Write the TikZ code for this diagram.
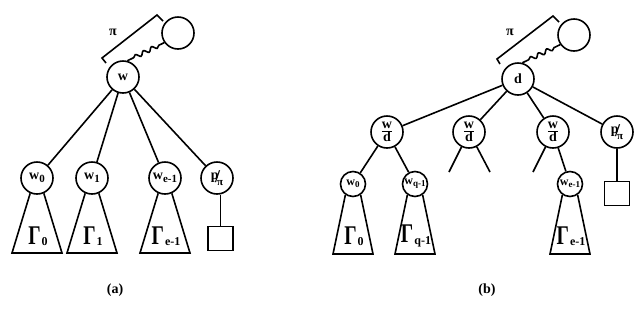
\documentclass[tikz,border=0pt]{standalone}
\usepackage{fontspec}
\usepackage{graphicx}
\setmainfont{Liberation Serif}
\usetikzlibrary{calc,decorations.pathmorphing}

% subscripts inside the tree nodes
\newcommand\nsub[1]{\raisebox{-2.5pt}{\fontsize{11}{11}\selectfont #1}}
\newcommand\ssub[1]{\raisebox{-2pt}{\fontsize{9}{9}\selectfont #1}}
% subtree label: big Gamma with an index
\newcommand\gam[1]{\scalebox{0.72}[1]{\fontsize{27}{27}\selectfont\bfseries Γ}\kern1pt\raisebox{-1.5pt}{\fontsize{12}{12}\selectfont\bfseries #1}}
% p over pi
\newcommand\poverpi{\raisebox{2.5pt}{p}\kern-3.5pt{\fontsize{18}{18}\selectfont/}\kern-3pt\raisebox{-3.5pt}{\fontsize{11}{11}\selectfont π}}
% w over d
\newcommand\wover{$\frac{\hbox{w}}{\hbox{d}}$}

\begin{document}
\begin{tikzpicture}[x=1pt,y=-1pt,
  line width=1.6pt,
  circ/.style={circle,draw,line width=1.6pt,minimum size=32pt,inner sep=0pt,
    font=\fontsize{14}{14}\selectfont\bfseries},
  scirc/.style={circle,draw,line width=1.6pt,minimum size=25pt,inner sep=0pt,
    font=\fontsize{12}{12}\selectfont\bfseries},
  bigcirc/.style={circle,draw,line width=1.6pt,minimum size=32pt,inner sep=0pt},
  leafbox/.style={draw,line width=1.6pt,minimum width=25pt,minimum height=24pt,inner sep=0pt},
  gamlab/.style={inner sep=0pt},
  pilab/.style={font=\fontsize{14}{14}\selectfont\bfseries},
  caplab/.style={font=\fontsize{14}{14}\selectfont\bfseries},
  wave/.style={decorate,decoration={snake,amplitude=2pt,segment length=9pt,
    pre length=7pt,post length=3pt}}
]
\useasboundingbox (0,0) rectangle (642,325);

% ---------------- (a) ----------------
\node[circ] (w) at (123,77) {w};
\node[bigcirc] (biga) at ($(w)+(55,-44)$) {};
\draw (w) ++(-17,-14) coordinate (ba1) -- ++(-4,-5) coordinate (ba2)
      -- ++(55,-43) coordinate (ba3) -- ++(6,6) coordinate (ba4);
\node[pilab] (pia) at ($(w)+(-10,-45)$) {π};
\draw[wave] (w.75) -- (biga.215);

\node[circ] (a0) at (37,178) {w\nsub{0}};
\node[circ] (a1) at (92,178) {w\nsub{1}};
\node[circ] (ae) at (165,178) {w\nsub{e-1}};
\node[circ] (ap) at (217,178) {\poverpi};
\foreach \c in {a0,a1,ae,ap} \draw (w) -- (\c);

\foreach \c/\g in {a0/0,a1/1,ae/e-1}{
  \draw (\c.246) -- ($(\c)+(-25,75)$) -- ($(\c)+(25,75)$) -- (\c.294);
  \node[gamlab] at ($(\c)+(1,58)$) {\gam{\g}};
}
\node[leafbox] (asq) at (220.5,238.5) {};
\draw (asq) -- (asq |- ap.south);

\node[caplab] (capa) at (115,290) {(a)};

% ---------------- (b) ----------------
\node[circ] (d) at (518,79) {d};
\node[bigcirc] (bigb) at ($(d)+(56,-44)$) {};
\draw (d) ++(-18,-15) coordinate (bb1) -- ++(-3,-5) coordinate (bb2)
      -- ++(56,-43) coordinate (bb3) -- ++(6,6) coordinate (bb4);
\node[pilab] (pib) at ($(d)+(-8,-47)$) {π};
\draw[wave] (d.75) -- (bigb.215);

\node[circ] (q1) at (387,132) {\wover};
\node[circ] (q2) at (469,132) {\wover};
\node[circ] (q3) at (553,132) {\wover};
\node[circ] (bp) at (617,132) {\poverpi};
\foreach \c in {q1,q2,q3,bp} \draw (d) -- (\c);

\node[scirc] (b0) at (353,184) {w\ssub{0}};
\node[scirc] (bq) at (415,184) {w\ssub{q-1}};
\node[scirc] (be) at (570,184) {w\ssub{e-1}};
\draw (q1) -- (b0);
\draw (q1) -- (bq);
\draw (q3) -- (be);

\coordinate (q2l) at ($(q2)+(-20,40)$);
\coordinate (q2r) at ($(q2)+(21,40)$);
\coordinate (q3l) at ($(q3)+(-20,40)$);
\draw (q2) -- (q2l);
\draw (q2) -- (q2r);
\draw (q3) -- (q3l);

\foreach \c/\g in {b0/0,bq/q-1,be/e-1}{
  \draw (\c.235) -- ($(\c)+(-20,70)$) -- ($(\c)+(20,70)$) -- (\c.305);
  \node[gamlab] at ($(\c)+(1,52)$) {\gam{\g}};
}
\node[leafbox] (bsq) at (617,193.5) {};
\draw (bp) -- (bsq);

\node[caplab] (capb) at (487,290) {(b)};
\end{tikzpicture}
\end{document}
